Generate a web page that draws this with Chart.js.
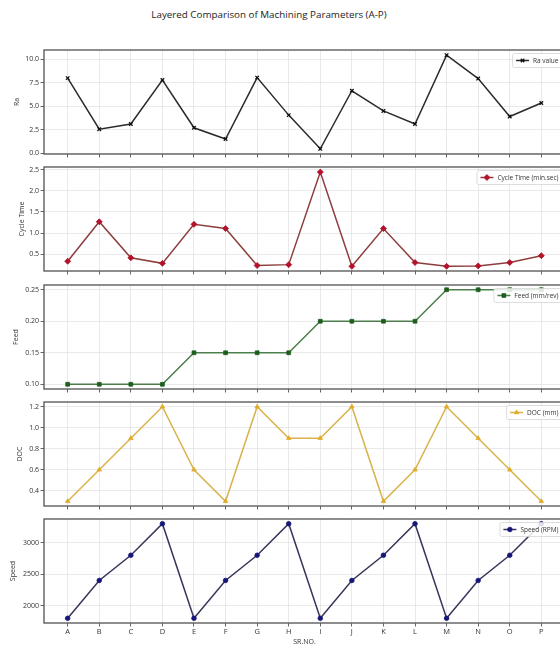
<!DOCTYPE html>
<html><head><meta charset="utf-8">
<script src="https://cdn.jsdelivr.net/npm/chart.js@4.4.1/dist/chart.umd.min.js"></script>
<style>
html,body{margin:0;padding:0;background:#fff;}
#wrap{position:relative;width:560px;height:645px;overflow:hidden;background:#fff;}
#title{position:absolute;left:0;width:538px;top:8px;text-align:center;font-family:'Open Sans';font-size:9.8px;color:#222;white-space:nowrap;}
canvas{position:absolute;left:0;}
</style></head><body>
<div id="wrap"><div id="title">Layered Comparison of Machining Parameters (A-P)</div></div>
<script>
// ---- data ----
const srNo = ['A','B','C','D','E','F','G','H','I','J','K','L','M','N','O','P'];
const raValue   = [8.0, 2.55, 3.1, 7.8, 2.7, 1.5, 8.05, 4.05, 0.45, 6.65, 4.5, 3.1, 10.45, 7.95, 3.9, 5.35];
const cycleTime = [0.34, 1.27, 0.42, 0.29, 1.21, 1.11, 0.24, 0.26, 2.44, 0.22, 1.11, 0.31, 0.22, 0.23, 0.31, 0.47];
const feed      = [0.10, 0.10, 0.10, 0.10, 0.15, 0.15, 0.15, 0.15, 0.20, 0.20, 0.20, 0.20, 0.25, 0.25, 0.25, 0.25];
const doc       = [0.3, 0.6, 0.9, 1.2, 0.6, 0.3, 1.2, 0.9, 0.9, 1.2, 0.3, 0.6, 1.2, 0.9, 0.6, 0.3];
const speed     = [1800, 2400, 2800, 3300, 1800, 2400, 2800, 3300, 1800, 2400, 2800, 3300, 1800, 2400, 2800, 3300];

const raTicks    = [0, 2.5, 5, 7.5, 10];
const cycleTicks = [0.5, 1.0, 1.5, 2.0, 2.5];
const feedTicks  = [0.10, 0.15, 0.20, 0.25];
const docTicks   = [0.4, 0.6, 0.8, 1.0, 1.2];
const speedTicks = [2000, 2500, 3000];

const panels = [
  {label:'Ra value', yTitle:'Ra', values:raValue, ticks:raTicks, dec:1, min:-0.1, max:11.0,
   line:'#2b2b2b', point:'#111111', style:'crossRot', r:2.5, top:50, titleX:17},
  {label:'Cycle Time (min.sec)', yTitle:'Cycle Time', values:cycleTime, ticks:cycleTicks, dec:1, min:0.11, max:2.56,
   line:'#8e3d3d', point:'#b3122a', style:'rectRot', r:3, top:167, titleX:21.5},
  {label:'Feed (mm/rev)', yTitle:'Feed', values:feed, ticks:feedTicks, dec:2, min:0.0925, max:0.2575,
   line:'#4d7f4d', point:'#1d5e1d', style:'rect', r:2.7, top:284.5, titleX:16},
  {label:'DOC (mm)', yTitle:'DOC', values:doc, ticks:docTicks, dec:1, min:0.255, max:1.245,
   line:'#d9b34a', point:'#e0ac2a', style:'triangle', r:2.6, top:402, titleX:20},
  {label:'Speed (RPM)', yTitle:'Speed', values:speed, ticks:speedTicks, dec:0, min:1725, max:3375,
   line:'#35355a', point:'#15157a', style:'circle', r:2.3, top:518.5, titleX:13}
];

const FONT = 'Open Sans';
const PLOT_H = 104, PAD_T = 8;

const framePlugin = {
  id: 'frameLegend',
  afterDraw(chart) {
    const {ctx, chartArea: a} = chart;
    ctx.save();
    ctx.strokeStyle = '#5e5e5e';
    ctx.lineWidth = 1.4;
    ctx.strokeRect(a.left, a.top, a.right - a.left, a.bottom - a.top);
    const ds = chart.data.datasets[0];
    ctx.font = '6.5px "' + FONT + '"';
    const tw = ctx.measureText(ds.label).width;
    const h = 14, pad = 3.5, handle = 13, gap = 4;
    const w = pad + handle + gap + tw + pad;
    const x = a.right - 3 - w, y = a.top + 3.5;
    ctx.fillStyle = 'rgba(255,255,255,0.85)';
    ctx.strokeStyle = '#d4d4d4';
    ctx.lineWidth = 0.8;
    ctx.beginPath();
    ctx.roundRect(x, y, w, h, 2);
    ctx.fill(); ctx.stroke();
    const cy = y + h / 2;
    ctx.strokeStyle = ds.borderColor;
    ctx.lineWidth = ds.borderWidth;
    ctx.beginPath(); ctx.moveTo(x + pad, cy); ctx.lineTo(x + pad + handle, cy); ctx.stroke();
    ctx.fillStyle = ds.pointBackgroundColor;
    ctx.strokeStyle = ds.pointBorderColor;
    ctx.lineWidth = ds.pointBorderWidth;
    Chart.helpers.drawPoint(ctx, {pointStyle: ds.pointStyle, radius: ds.pointRadius, borderWidth: ds.pointBorderWidth}, x + pad + handle / 2, cy);
    ctx.fillStyle = '#333';
    ctx.textBaseline = 'middle';
    ctx.textAlign = 'left';
    ctx.fillText(ds.label, x + pad + handle + gap, cy + 0.5);
    ctx.restore();
  }
};

const wrap = document.getElementById('wrap');
panels.forEach((p, idx) => {
  const isLast = idx === panels.length - 1;
  const c = document.createElement('canvas');
  const cw = 580;
  const ch = isLast ? 135 : PAD_T + PLOT_H + 6;
  const xH = ch - PAD_T - PLOT_H;
  c.width = cw; c.height = ch;
  c.style.width = cw + 'px'; c.style.height = ch + 'px';
  c.style.top = (p.top - PAD_T) + 'px';
  wrap.appendChild(c);
  const lineH = 7 * 1.2;
  new Chart(c, {
    type: 'line',
    data: {
      datasets: [{
        label: p.label,
        data: p.values.map((v, i) => ({x: i, y: v})),
        borderColor: p.line,
        borderWidth: 1.5,
        pointStyle: p.style,
        pointRadius: p.r,
        pointBackgroundColor: p.point,
        pointBorderColor: p.point,
        pointBorderWidth: p.style === 'crossRot' ? 1.3 : 0.8,
        tension: 0,
        clip: false
      }]
    },
    options: {
      responsive: false,
      animation: false,
      devicePixelRatio: 1,
      layout: {padding: {top: PAD_T, right: 15, left: 0, bottom: 0}},
      plugins: {legend: {display: false}, tooltip: {enabled: false}, title: {display: false}},
      scales: {
        x: {
          type: 'linear', min: -0.75, max: 15.75,
          afterBuildTicks: s => { s.ticks = srNo.map((_, i) => ({value: i})); },
          afterFit: s => { s.height = xH; },
          ticks: {display: isLast, callback: v => srNo[v], font: {family: FONT, size: 7.5}, color: '#333', padding: 1, autoSkip: false, maxRotation: 0},
          grid: {color: '#e3e3e3', lineWidth: 0.8, tickLength: 3.5, tickColor: '#666', tickWidth: 1},
          border: {display: false},
          title: {display: isLast, text: 'SR.NO.', font: {family: FONT, size: 7}, color: '#333', padding: {top: 0, bottom: 0}}
        },
        y: {
          type: 'linear', min: p.min, max: p.max,
          afterBuildTicks: s => { s.ticks = p.ticks.map(v => ({value: v})); },
          afterFit: s => { s.width = 44; },
          ticks: {callback: v => Number(v).toFixed(p.dec), font: {family: FONT, size: 7}, color: '#333', padding: 1.5},
          grid: {color: '#e3e3e3', lineWidth: 0.8, tickLength: 3.5, tickColor: '#666', tickWidth: 1},
          border: {display: false},
          title: {display: true, text: p.yTitle, font: {family: FONT, size: 7}, color: '#333', padding: {top: p.titleX - lineH / 2, bottom: 0}}
        }
      }
    },
    plugins: [framePlugin]
  });
});
</script>
</body></html>
